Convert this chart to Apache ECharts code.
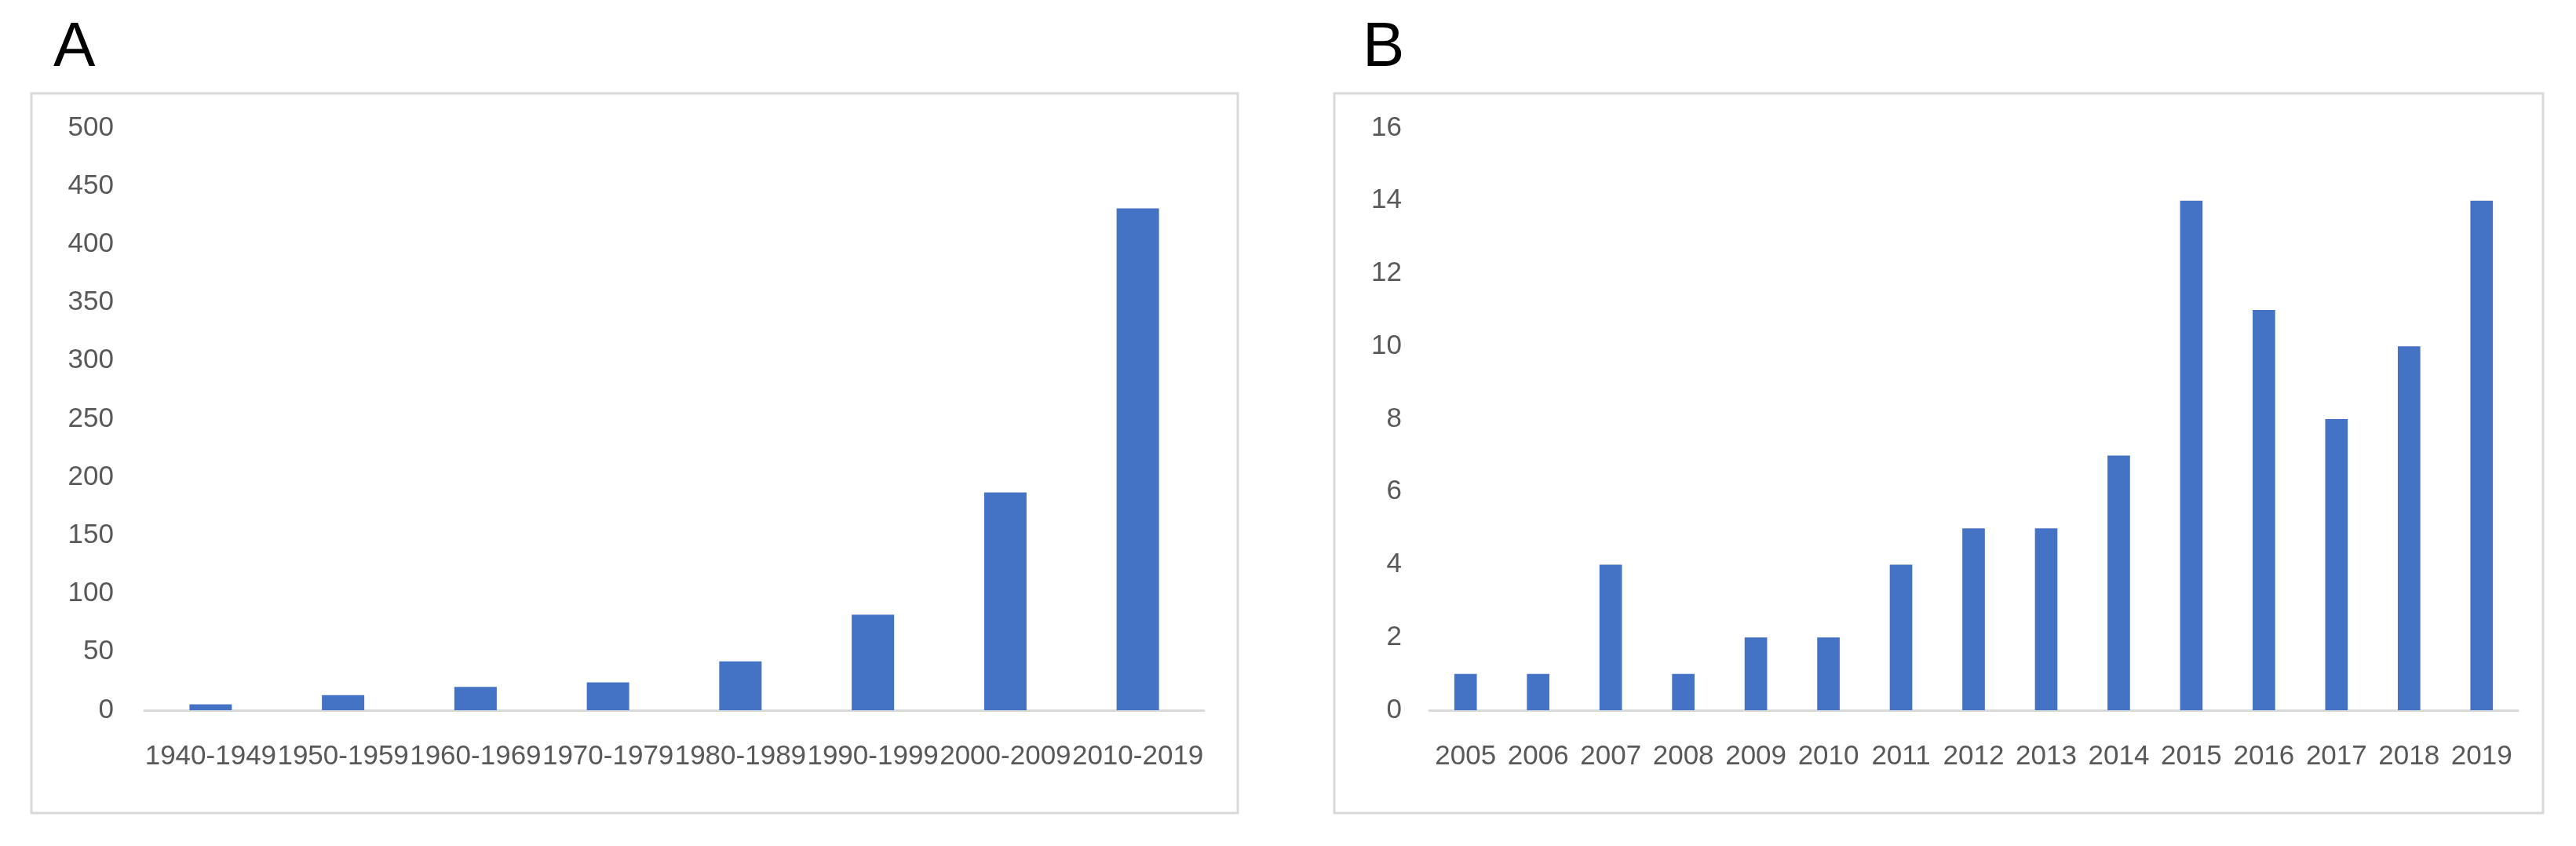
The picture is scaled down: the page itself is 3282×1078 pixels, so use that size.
<!DOCTYPE html>
<html>
<head>
<meta charset="utf-8">
<script src="https://cdn.jsdelivr.net/npm/echarts@6/dist/echarts.min.js"></script>
<style>
html,body{margin:0;padding:0;background:#fff;}
#chart{width:3282px;height:1078px;}
</style>
</head>
<body>
<div id="chart"></div>
<script>
// Panel A data
const decadeCategories = ['1940-1949','1950-1959','1960-1969','1970-1979','1980-1989','1990-1999','2000-2009','2010-2019'];
const decadeValues = [5, 13, 20, 24, 42, 82, 187, 431];
// Panel B data
const yearCategories = ['2005','2006','2007','2008','2009','2010','2011','2012','2013','2014','2015','2016','2017','2018','2019'];
const yearValues = [1, 1, 4, 1, 2, 2, 4, 5, 5, 7, 14, 11, 8, 10, 14];
const panelLabels = ['A', 'B'];

const FONT = 'Liberation Sans, Arial, sans-serif';
const LABEL_COLOR = '#595959';
const BAR_COLOR = '#4472C4';
const LINE_COLOR = '#d9d9d9';

const chart = echarts.init(document.getElementById('chart'), null, {renderer: 'canvas'});

function xAxisCfg(gridIndex, cats) {
  return {
    type: 'category', gridIndex: gridIndex, data: cats,
    axisLine: {show: true, lineStyle: {color: LINE_COLOR, width: 3}},
    axisTick: {show: false},
    axisLabel: {interval: 0, color: LABEL_COLOR, fontFamily: FONT, fontSize: 35, margin: 42},
    splitLine: {show: false}
  };
}
function yAxisCfg(gridIndex, max, interval, margin) {
  return {
    type: 'value', gridIndex: gridIndex, min: 0, max: max, interval: interval,
    axisLine: {show: false}, axisTick: {show: false},
    splitLine: {show: false},
    axisLabel: {color: LABEL_COLOR, fontFamily: FONT, fontSize: 35, margin: margin}
  };
}

const option = {
  animation: false,
  backgroundColor: '#fff',
  grid: [
    {left: 184, top: 163, width: 1350, height: 742},
    {left: 1821, top: 163, width: 1387, height: 742}
  ],
  xAxis: [xAxisCfg(0, decadeCategories), xAxisCfg(1, yearCategories)],
  yAxis: [yAxisCfg(0, 500, 50, 39), yAxisCfg(1, 16, 2, 35)],
  series: [
    {type: 'bar', xAxisIndex: 0, yAxisIndex: 0, data: decadeValues, barWidth: '32%',
     itemStyle: {color: BAR_COLOR}},
    {type: 'bar', xAxisIndex: 1, yAxisIndex: 1, data: yearValues, barWidth: '31%',
     itemStyle: {color: BAR_COLOR}}
  ],
  graphic: [
    {type: 'rect', shape: {x: 40, y: 119, width: 1537, height: 917},
     style: {fill: 'none', stroke: LINE_COLOR, lineWidth: 3}, silent: true},
    {type: 'rect', shape: {x: 1700, y: 119, width: 1540, height: 917},
     style: {fill: 'none', stroke: LINE_COLOR, lineWidth: 3}, silent: true},
    {type: 'text', x: 68, y: 62,
     style: {text: panelLabels[0], font: '80px ' + FONT, fill: '#000', textAlign: 'left', textVerticalAlign: 'middle'}},
    {type: 'text', x: 1736, y: 62,
     style: {text: panelLabels[1], font: '80px ' + FONT, fill: '#000', textAlign: 'left', textVerticalAlign: 'middle'}}
  ]
};
chart.setOption(option);
</script>
</body>
</html>
